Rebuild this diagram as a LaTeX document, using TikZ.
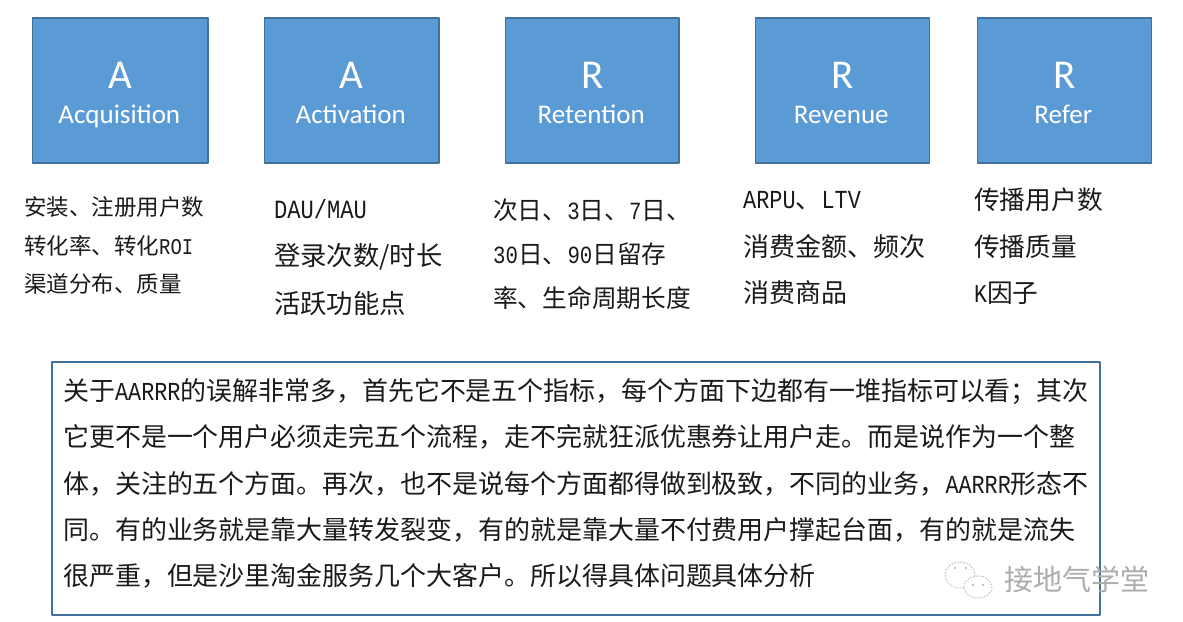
\documentclass[tikz,border=0pt]{standalone}
\usepackage{fontspec}
\setmainfont{Noto Sans CJK SC}
\newfontfamily\latfont[FakeStretch=0.84]{Liberation Mono}
\newfontfamily\boxfont{Carlito}
\newcommand{\lat}[1]{{\latfont #1}}
\definecolor{boxblue}{HTML}{5B9BD5}
\definecolor{boxedge}{HTML}{41719C}
\definecolor{textdark}{HTML}{1A1A1A}
\tikzset{
	stagebox/.style={draw=boxedge, line width=1.2pt, fill=boxblue, minimum height=145pt, inner sep=0pt},
	stagetxt/.style={anchor=base, inner sep=0pt, text=white},
	metric/.style={anchor=west, inner sep=0pt, align=left, text=textdark},
	markbox/.style={draw=gray!55, dash pattern=on 1.5pt off 1.5pt, line width=.9pt}
}
\begin{document}
\begin{tikzpicture}[x=1pt, y=-1pt, line join=round]
	\useasboundingbox (0,0) rectangle (1183,621);
	% five stages
	\foreach \nm/\x/\w/\ltr/\lbl in {acq/120.3/175.5/A/Acquisition, act/351.7/174.6/A/Activation, ret/592.2/173.6/R/Retention, rev/842.3/173.6/R/Revenue, ref/1064.3/173.6/R/Refer}{
		\node[stagebox, minimum width=\w pt] (\nm) at (\x,90.5) {};
		\node[stagetxt, font=\boxfont\fontsize{41}{41}\selectfont] (\nm ltr) at (\x,88) {\ltr};
		\node[stagetxt, font=\boxfont\fontsize{27}{27}\selectfont] (\nm lbl) at ([xshift=-1pt]\x,123) {\lbl};
	}
	% metrics under each stage
	\node[metric, font=\fontsize{22.5}{38.5}\selectfont] (acqtxt) at (24,245.5) {安装、注册用户数\\转化率、转化\lat{ROI}\\渠道分布、质量};
	\node[metric, font=\fontsize{26.3}{45.5}\selectfont] (acttxt) at (274,257.5) {\lat{DAU/MAU}\\[2pt]登录次数/时长\\[2pt]活跃功能点};
	\node[metric, font=\fontsize{24.7}{44}\selectfont] (rettxt) at (493,254) {次日、\lat{3}日、\lat{7}日、\\\lat{30}日、\lat{90}日留存\\率、生命周期长度};
	\node[metric, font=\fontsize{26}{46}\selectfont] (revtxt) at (743,248) {\lat{ARPU}、\lat{LTV}\\[2pt]消费金额、频次\\消费商品};
	\node[metric, font=\fontsize{25.7}{46.5}\selectfont] (reftxt) at (974,246.5) {传播用户数\\传播质量\\\lat{K}因子};
	% note below
	\node[draw=boxedge, line width=1.3pt, minimum width=1048pt, minimum height=253pt, inner sep=0pt] (noteframe) at (576,488.5) {};
	\node[metric, font=\fontsize{25.95}{46.3}\selectfont] (notetxt) at (63,483.5) {关于\lat{AARRR}的误解非常多，首先它不是五个指标，每个方面下边都有一堆指标可以看；其次\\
		它更不是一个用户必须走完五个流程，走不完就狂派优惠券让用户走。而是说作为一个整\\
		体，关注的五个方面。再次，也不是说每个方面都得做到极致，不同的业务，\lat{AARRR}形态不\\
		同。有的业务就是靠大量转发裂变，有的就是靠大量不付费用户撑起台面，有的就是流失\\
		很严重，但是沙里淘金服务几个大客户。所以得具体问题具体分析};
	% watermark
	\draw[markbox] (960,575) ellipse (15 and 13);
	\draw[markbox, fill=white] (978,587) ellipse (14 and 11);
	\foreach \x/\y in {955/568, 966/568, 973/585, 983/585} \fill[gray!65] (\x,\y) circle (1.2);
	\node[anchor=west, inner sep=0pt, text=gray!65, font=\fontsize{29}{29}\selectfont] (marktxt) at (1004,579) {接地气学堂};
\end{tikzpicture}
\end{document}
